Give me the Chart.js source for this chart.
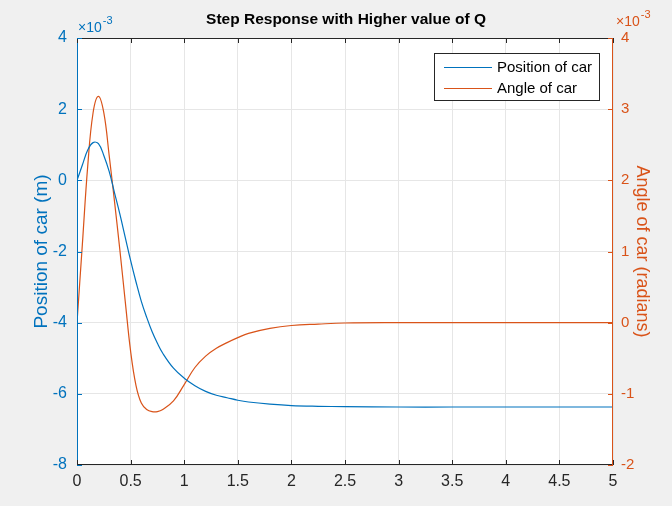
<!DOCTYPE html>
<html>
<head>
<meta charset="utf-8">
<script src="https://cdn.jsdelivr.net/npm/chart.js@4.4.1/dist/chart.umd.min.js"></script>
<style>
  html, body { margin: 0; padding: 0; background: #f0f0f0; }
  #wrap { width: 672px; height: 506px; }
</style>
</head>
<body>
<div id="wrap"><canvas id="myChart" width="672" height="506"></canvas></div>
<script>
// values, both series in units of 1e-3
const time = [0, 0.05, 0.1, 0.15, 0.2, 0.25, 0.3, 0.35, 0.4, 0.45, 0.5, 0.55, 0.6, 0.65,
  0.7, 0.75, 0.8, 0.9, 1.0, 1.1, 1.2, 1.3, 1.4, 1.5, 1.6, 1.8, 2.0, 2.25, 2.5, 3, 3.5, 4, 4.5, 5];
const positionMilli = [0, 0.43, 0.85, 1.06, 1.03, 0.7, 0.25, -0.35, -0.95, -1.6, -2.25, -2.85,
  -3.4, -3.85, -4.25, -4.58, -4.86, -5.28, -5.56, -5.77, -5.93, -6.04, -6.11, -6.18, -6.23,
  -6.29, -6.33, -6.35, -6.36, -6.37, -6.37, -6.37, -6.37, -6.37];
const angleMilli = [0, 1.1, 2.2, 2.95, 3.18, 2.95, 2.35, 1.7, 1.02, 0.3, -0.4, -0.88, -1.13,
  -1.22, -1.25, -1.25, -1.22, -1.1, -0.87, -0.63, -0.47, -0.36, -0.28, -0.21, -0.15, -0.08,
  -0.04, -0.02, -0.005, 0, 0, 0, 0, 0];
const xTicks = [0, 0.5, 1, 1.5, 2, 2.5, 3, 3.5, 4, 4.5, 5];

const BLUE = '#0072BD';
const ORANGE = '#D95319';
const FONT = '"Liberation Sans", Arial, sans-serif';

const decor = {
  id: 'decor',
  beforeDraw(chart) {
    const ctx = chart.ctx, a = chart.chartArea;
    ctx.save();
    ctx.fillStyle = '#f0f0f0';
    ctx.fillRect(0, 0, chart.width, chart.height);
    ctx.fillStyle = '#ffffff';
    ctx.fillRect(a.left, a.top, a.right - a.left, a.bottom - a.top);
    ctx.restore();
  },
  afterDraw(chart) {
    const ctx = chart.ctx, a = chart.chartArea;
    const sx = chart.scales.x, sl = chart.scales.y, sr = chart.scales.y1;
    ctx.save();

    // box
    ctx.lineWidth = 1;
    ctx.strokeStyle = '#262626';
    ctx.beginPath();
    ctx.moveTo(a.left, a.top + 0.5); ctx.lineTo(a.right, a.top + 0.5);
    ctx.moveTo(a.left, a.bottom - 0.5); ctx.lineTo(a.right, a.bottom - 0.5);
    ctx.stroke();
    ctx.strokeStyle = BLUE;
    ctx.beginPath(); ctx.moveTo(a.left + 0.5, a.top); ctx.lineTo(a.left + 0.5, a.bottom); ctx.stroke();
    ctx.strokeStyle = ORANGE;
    ctx.beginPath(); ctx.moveTo(a.right - 0.5, a.top); ctx.lineTo(a.right - 0.5, a.bottom); ctx.stroke();

    // inward tick marks
    ctx.strokeStyle = '#262626';
    ctx.beginPath();
    sx.ticks.forEach(t => {
      const px = Math.round(sx.getPixelForValue(t.value)) + 0.5;
      ctx.moveTo(px, a.bottom); ctx.lineTo(px, a.bottom - 5);
      ctx.moveTo(px, a.top); ctx.lineTo(px, a.top + 5);
    });
    ctx.stroke();
    ctx.strokeStyle = BLUE;
    ctx.beginPath();
    sl.ticks.forEach(t => {
      const py = Math.round(sl.getPixelForValue(t.value)) + 0.5;
      ctx.moveTo(a.left, py); ctx.lineTo(a.left + 5, py);
    });
    ctx.stroke();
    ctx.strokeStyle = ORANGE;
    ctx.beginPath();
    sr.ticks.forEach(t => {
      const py = Math.round(sr.getPixelForValue(t.value)) + 0.5;
      ctx.moveTo(a.right, py); ctx.lineTo(a.right - 5, py);
    });
    ctx.stroke();

    // title
    ctx.fillStyle = '#000';
    ctx.font = 'bold 15.5px ' + FONT;
    ctx.textAlign = 'center';
    ctx.textBaseline = 'alphabetic';
    ctx.fillText('Step Response with Higher value of Q', (a.left + a.right) / 2 + 1, 24);

    // exponent labels
    const expo = (x, y, color) => {
      ctx.fillStyle = color;
      ctx.textAlign = 'left';
      ctx.font = '14px ' + FONT;
      ctx.fillText('\u00d710', x, y);
      const w = ctx.measureText('\u00d710').width;
      ctx.font = '11px ' + FONT;
      ctx.fillText('-3', x + w + 1, y - 8);
    };
    expo(a.left + 1, 32, BLUE);
    expo(a.right + 3, 26, ORANGE);

    // legend
    const lx = 434, ly = 53, lw = 165, lh = 47;
    ctx.fillStyle = '#fff';
    ctx.fillRect(lx, ly, lw, lh);
    ctx.strokeStyle = '#262626';
    ctx.lineWidth = 1;
    ctx.strokeRect(lx + 0.5, ly + 0.5, lw, lh);
    ctx.font = '15px ' + FONT;
    ctx.textBaseline = 'middle';
    chart.data.datasets.forEach((ds, i) => {
      const y = ly + 14 + i * 21;
      ctx.strokeStyle = ds.borderColor;
      ctx.lineWidth = 1.2;
      ctx.beginPath(); ctx.moveTo(lx + 10, y + 0.5); ctx.lineTo(lx + 58, y + 0.5); ctx.stroke();
      ctx.fillStyle = '#000';
      ctx.fillText(ds.label, lx + 63, y + 1);
    });
    ctx.restore();
  }
};

const ctx = document.getElementById('myChart').getContext('2d');
const myChart = new Chart(ctx, {
  type: 'line',
  data: {
    datasets: [{
      label: 'Position of car',
      data: time.map((t, i) => ({ x: t, y: positionMilli[i] })),
      yAxisID: 'y',
      borderColor: BLUE,
      borderWidth: 1.2,
      pointRadius: 0,
      tension: 0.4
    }, {
      label: 'Angle of car',
      data: time.map((t, i) => ({ x: t, y: angleMilli[i] })),
      yAxisID: 'y1',
      borderColor: ORANGE,
      borderWidth: 1.2,
      pointRadius: 0,
      tension: 0.4
    }]
  },
  options: {
    responsive: false,
    animation: false,
    layout: { padding: { top: 38, left: 30, right: 19, bottom: 0 } },
    plugins: { legend: { display: false }, tooltip: { enabled: false } },
    scales: {
      x: {
        type: 'linear', min: 0, max: 5,
        afterBuildTicks: s => { s.ticks = xTicks.map(v => ({ value: v })); },
        afterFit: s => { s.height = 41; },
        ticks: { color: '#262626', font: { family: FONT, size: 16 }, padding: 7,
          maxRotation: 0, callback: v => String(v) },
        grid: { color: '#e6e6e6', drawTicks: false },
        border: { display: false }
      },
      y: {
        position: 'left', min: -8, max: 4,
        afterFit: s => { s.width = 47; },
        ticks: { stepSize: 2, color: BLUE, font: { family: FONT, size: 16 }, padding: 10 },
        grid: { color: '#e6e6e6', drawTicks: false },
        border: { display: false },
        title: { display: true, text: 'Position of car (m)', color: BLUE,
          font: { family: FONT, size: 19 }, padding: { top: 0, bottom: 0 } }
      },
      y1: {
        position: 'right', min: -2, max: 4,
        afterFit: s => { s.width = 40; },
        ticks: { stepSize: 1, color: ORANGE, font: { family: FONT, size: 15 }, padding: 8 },
        grid: { display: false, drawTicks: false },
        border: { display: false },
        title: { display: true, text: 'Angle of car (radians)', color: ORANGE,
          font: { family: FONT, size: 18 }, padding: { top: 0, bottom: 0 } }
      }
    }
  },
  plugins: [decor]
});
</script>
</body>
</html>
